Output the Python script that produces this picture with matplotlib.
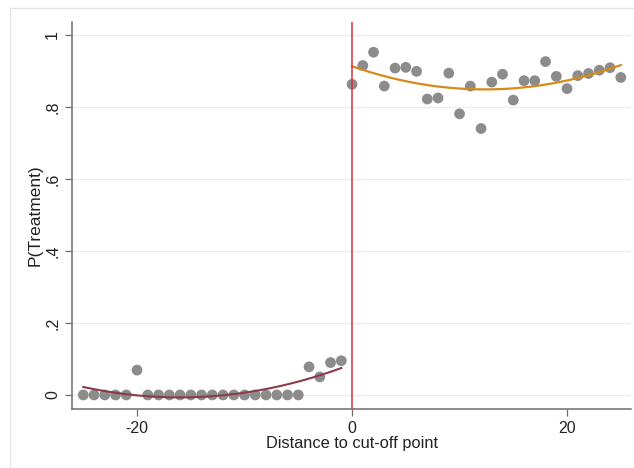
import matplotlib
matplotlib.use("Agg")
import matplotlib.pyplot as plt
import numpy as np
from matplotlib.lines import Line2D

plt.rcParams['font.family'] = ['Liberation Sans', 'DejaVu Sans']
plt.rcParams['axes.unicode_minus'] = False

# binned means, left of cut-off
x_left = list(range(-25, 0))
y_left = [0, 0, 0, 0, 0, 0.069, 0, 0, 0, 0, 0, 0, 0, 0, 0, 0, 0, 0, 0, 0,
          0, 0.078, 0.05, 0.09, 0.095]

# binned means, right of cut-off
x_right = list(range(0, 26))
y_right = [0.863, 0.915, 0.952, 0.858, 0.908, 0.910, 0.899, 0.822, 0.825,
           0.894, 0.781, 0.858, 0.740, 0.869, 0.891, 0.819, 0.873, 0.873,
           0.926, 0.885, 0.851, 0.887, 0.893, 0.902, 0.909, 0.882]

yticks = [0, 0.2, 0.4, 0.6, 0.8, 1]
ytick_labels = ["0", ".2", ".4", ".6", ".8", "1"]
xticks = [-20, 0, 20]

W, H = 634, 468
fig = plt.figure(figsize=(W / 100, H / 100), dpi=100)
ax = fig.add_axes([72 / W, 1 - 409 / H, (631 - 72) / W, (409 - 22) / H])

# faint outer graph region border
fig.add_artist(Line2D([10 / W, 10 / W], [0, 1 - 8 / H], transform=fig.transFigure,
                      color='#e6e6e6', lw=1))
fig.add_artist(Line2D([10 / W, 1], [1 - 8 / H, 1 - 8 / H], transform=fig.transFigure,
                      color='#e6e6e6', lw=1))

for t in yticks:
    ax.axhline(t, color='#ececec', lw=0.9, zorder=0)

ax.scatter(x_left, y_left, s=60, color='#8c8c8c', edgecolors='none', zorder=3)
ax.scatter(x_right, y_right, s=60, color='#8c8c8c', edgecolors='none', zorder=3)

# quadratic fits on each side
cl = np.polyfit(x_left, y_left, 2)
xl = np.linspace(x_left[0], x_left[-1], 200)
ax.plot(xl, np.polyval(cl, xl), color='#8b3a4c', lw=1.5, zorder=4)
cr = np.polyfit(x_right, y_right, 2)
xr = np.linspace(x_right[0], x_right[-1], 200)
ax.plot(xr, np.polyval(cr, xr), color='#d58a1c', lw=1.6, zorder=4)

ax.axvline(0, color='#d8303c', lw=1.1, zorder=5)

ax.set_xlim(-26.05, 25.95)
ax.set_ylim(-0.039, 1.036)
ax.set_xticks(xticks)
ax.set_yticks(yticks)
ax.set_yticklabels(ytick_labels, rotation=90, va='center')
for s in ['top', 'right']:
    ax.spines[s].set_visible(False)
for s in ['left', 'bottom']:
    ax.spines[s].set_color('#6e6e6e')
    ax.spines[s].set_linewidth(1.1)
ax.tick_params(axis='both', colors='#6e6e6e', labelcolor='#222222', labelsize=11.5,
               length=5, width=0.9)
ax.set_xlabel('Distance to cut-off point', fontsize=11.8, color='#222222', labelpad=0)
ax.set_ylabel('P(Treatment)', fontsize=12.5, color='#222222', labelpad=2)

fig.savefig('out.png', dpi=100)
